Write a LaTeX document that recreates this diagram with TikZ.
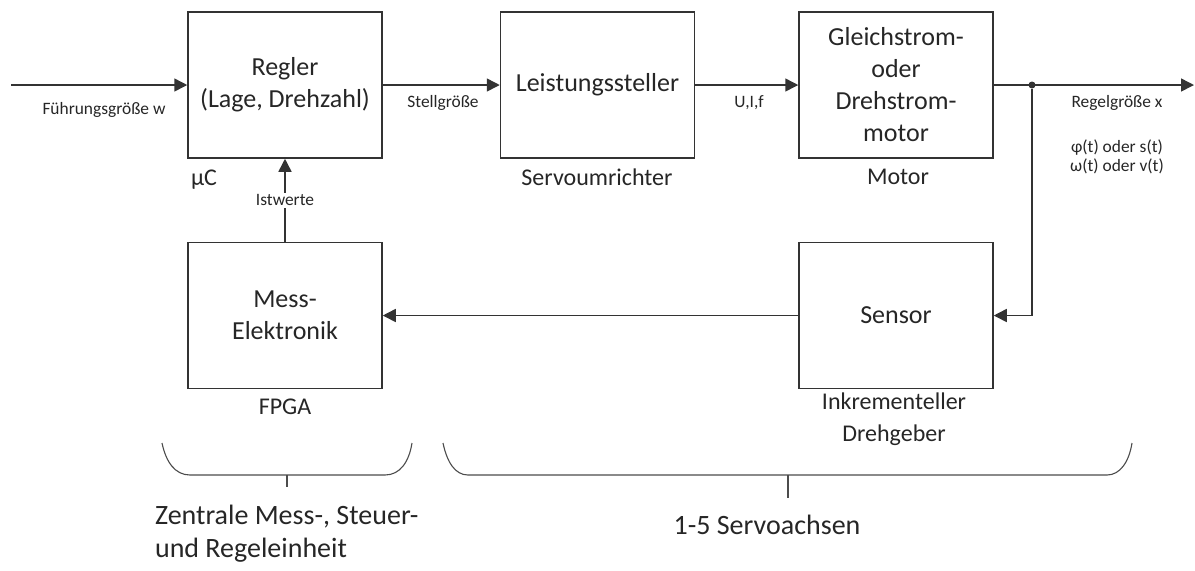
\documentclass[tikz,border=0pt]{standalone}
\usepackage{fontspec}
\setmainfont{Carlito}
\usetikzlibrary{arrows.meta}

\colorlet{ink}{black!80}
\tikzset{
  block/.style={draw=ink, line width=0.75pt, minimum width=97pt, minimum height=73pt,
    inner sep=0pt, align=center, text=black!85, font=\fontsize{13}{16}\selectfont},
  sig/.style={text=black!85, align=center, font=\fontsize{8.7}{9.5}\selectfont},
  sub/.style={text=black!85, align=center, font=\fontsize{12}{16}\selectfont},
  big/.style={text=black!85, font=\fontsize{14}{16.5}\selectfont},
  flow/.style={draw=ink, line width=0.75pt, -{Triangle[length=6.5pt,width=6.5pt]}},
  brace/.style={draw=black!70, line width=0.55pt},
}

\begin{document}
\begin{tikzpicture}[x=0.5pt,y=-0.5pt]
	\useasboundingbox (0,0) rectangle (1195,570);

	% blocks
	\node[block] (regler) at (285,85) {Regler\\(Lage, Drehzahl)};
	\node[block] (steller) at (597.5,85) {Leistungssteller};
	\node[block] (motor) at (896,85) {Gleichstrom-\\oder\\Drehstrom-\\motor};
	\node[block] (mess) at (285,315.5) {Mess-\\Elektronik};
	\node[block] (sensor) at (896,315.5) {Sensor};

	% signal path
	\coordinate (in) at (11,85);
	\coordinate (out) at (1194,85);
	\node[circle, fill=ink, inner sep=0pt, minimum size=3.5pt] (dot) at (1032,85) {};
	\draw[flow] (in) -- (regler);
	\draw[flow] (regler) -- (steller);
	\draw[flow] (steller) -- (motor);
	\draw[flow] (motor) -- (out);
	\draw[flow] (dot) |- (sensor);
	\draw[flow] (sensor) -- (mess);
	\draw[flow] (mess) -- node[sig, fill=white, inner sep=1pt] (ist) {Istwerte} (regler);

	% labels
	\node[sig] (w) at (104,110) {Führungsgröße w};
	\node[sig] (u) at (443,103) {Stellgröße};
	\node[sig] (uif) at (749,103) {U,I,f};
	\node[sig] (x) at (1117,103) {Regelgröße x};
	\node[sig] (phi) at (1117,156.5) {φ(t) oder s(t)\\ω(t) oder v(t)};
	\node[sub] (muc) at (204,180) {μC};
	\node[sub] (umr) at (597,177) {Servoumrichter};
	\node[sub] (mot) at (898,177) {Motor};
	\node[sub] (fpga) at (285,407) {FPGA};
	\node[sub] (dreh) at (894,419) {Inkrementeller\\Drehgeber};

	% braces
	\draw[brace] (162,443) .. controls (166,462) and (175,475) .. (190,475) -- (385,475)
		.. controls (400,475) and (409,462) .. (412,443);
	\draw[brace] (287,475) -- (287,487);
	\draw[brace] (443,443) .. controls (447,462) and (455,475) .. (468,475) -- (1107,475)
		.. controls (1120,475) and (1129,462) .. (1132,443);
	\draw[brace] (788,475) -- (788,498);
	\node[big, anchor=west, align=left] (zentral) at (148,533.5) {Zentrale Mess-, Steuer-\\und Regeleinheit};
	\node[big] (achsen) at (767,525) {1-5 Servoachsen};
\end{tikzpicture}
\end{document}
